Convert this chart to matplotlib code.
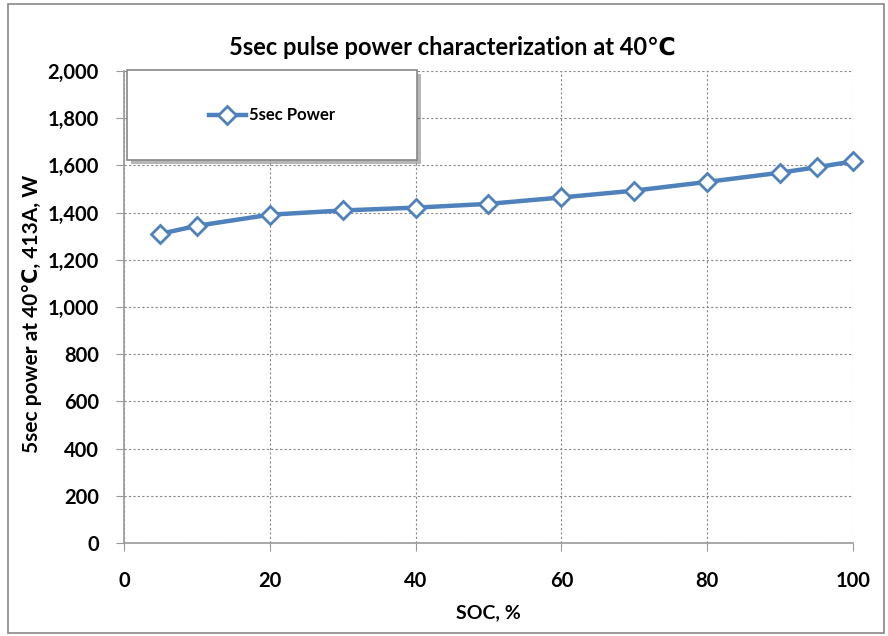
from matplotlib import pyplot as plt
from matplotlib import patches
from matplotlib import patheffects as pe
from matplotlib.ticker import FuncFormatter, MultipleLocator

# Data
soc = [5, 10, 20, 30, 40, 50, 60, 70, 80, 90, 95, 100]
power = [1310, 1344, 1391, 1409, 1421, 1437, 1464, 1493, 1530, 1569, 1592, 1617]
series_name = '5sec Power'
title = '5sec pulse power characterization at 40\u2103'
x_label = 'SOC, %'
y_label = '5sec power at 40\u2103, 413A, W'

BLUE = '#4F81BD'
FONTS = ['Lato', 'DejaVu Sans']


def main():
    plt.rcParams['font.family'] = FONTS
    plt.rcParams['font.weight'] = 'bold'

    fig = plt.figure(figsize=(8.88, 6.36), dpi=100)
    ax = fig.add_axes([0.1396, 0.1462, 0.821, 0.7422])

    # outer chart border
    fig.patches.append(patches.Rectangle((0.009, 0.004), 0.987, 0.99,
                                         transform=fig.transFigure,
                                         fill=False, edgecolor='#888888',
                                         linewidth=1.2))

    ax.plot(soc, power, color=BLUE, linewidth=3.2, marker='D',
            markersize=9.5, markerfacecolor='white', markeredgecolor=BLUE,
            markeredgewidth=2, label=series_name, zorder=3, clip_on=False)

    ax.set_xlim(0, 100)
    ax.set_ylim(0, 2000)
    ax.xaxis.set_major_locator(MultipleLocator(20))
    ax.yaxis.set_major_locator(MultipleLocator(200))
    ax.yaxis.set_major_formatter(FuncFormatter(lambda v, p: f'{int(v):,}'))

    ax.grid(True, color='#888888', linestyle=(0, (2, 2)), linewidth=0.8)
    for side in ('top', 'right'):
        ax.spines[side].set_visible(False)
    for side in ('left', 'bottom'):
        ax.spines[side].set_color('#999999')
        ax.spines[side].set_linewidth(1.2)
    ax.tick_params(axis='both', labelsize=14.5, color='#999999', length=6)
    ax.tick_params(axis='y', pad=12)
    ax.tick_params(axis='x', pad=14)

    fig.text(0.509, 0.925, title, fontsize=17, fontweight='bold',
             ha='center', va='center')
    ax.set_xlabel(x_label, fontsize=14, fontweight='bold')
    ax.set_ylabel(y_label, fontsize=15, fontweight='bold')
    ax.yaxis.set_label_coords(-0.112, 0.485)
    ax.xaxis.set_label_coords(0.5, -0.13)

    # legend box with shadow
    box = patches.Rectangle((0.004, 0.811), 0.398, 0.191,
                            transform=ax.transAxes, facecolor='white',
                            edgecolor='#888888', linewidth=1.2, zorder=5,
                            clip_on=False,
                            path_effects=[pe.SimplePatchShadow(offset=(3, -3),
                                                               alpha=0.4),
                                          pe.Normal()])
    ax.add_patch(box)
    leg = ax.legend(loc='center', bbox_to_anchor=(0.203, 0.906),
                    frameon=False, fontsize=12, handlelength=2.2,
                    handletextpad=0.2)
    leg.set_zorder(6)

    fig.savefig('out.png', dpi=100)


if __name__ == "__main__":
    main()
